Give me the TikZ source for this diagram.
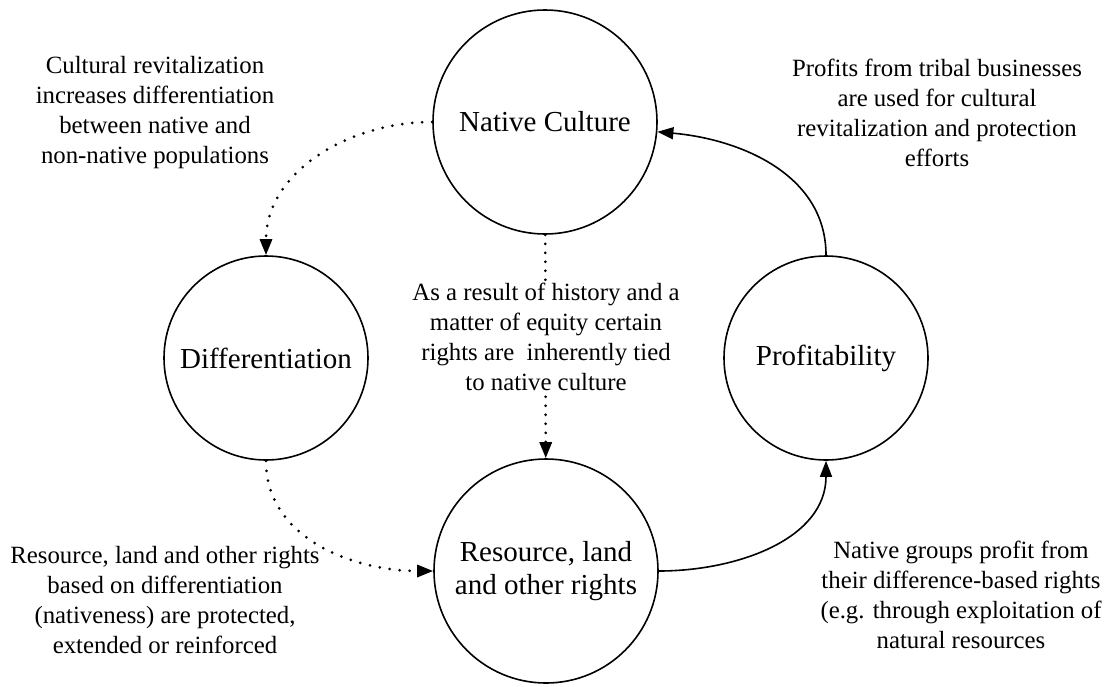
\documentclass[tikz,border=0pt]{standalone}
\usepackage{fontspec}
\setmainfont{Liberation Serif}
\usetikzlibrary{arrows.meta}
\tikzstyle{vertex}=[circle,draw,line width=0.8pt,inner sep=0pt,align=center,font=\fontsize{14.5}{16.5}\selectfont]
\tikzstyle{note}=[align=center,font=\fontsize{12.4}{15}\selectfont]
\tikzstyle{link}=[line width=0.8pt,-{Triangle[length=8pt,width=6pt]}]
\tikzstyle{dotlink}=[link,line width=1.5pt,line cap=round,dash pattern=on 0pt off 5pt]
\begin{document}
\begin{tikzpicture}[x=0.5pt,y=-0.5pt]
\useasboundingbox (0,0) rectangle (1107,686);

%circles
  \foreach \pos/\name/\label/\size in {{(545,122)/nc/{Native Culture}/112pt}, {(266,358)/diff/{Differentiation}/102pt},
      {(826,358)/prof/{Profitability}/102pt}, {(546,571)/rr/{Resource, land\\and other rights}/112pt}}
        \node[vertex, minimum size=\size] (\name) at \pos {\label};

%links
  \foreach \source/\dest/\o/\i in {nc/diff/180/90, diff/rr/-90/180}
          \draw[dotlink] (\source) to[out=\o,in=\i] (\dest);
  \foreach \source/\dest/\o/\i in {rr/prof/0/-90, prof/nc/90/-5}
          \draw[link] (\source) to[out=\o,in=\i] (\dest);
  \draw[dotlink,dash pattern=on 0pt off 4.5pt] (nc) -- (rr);

%notes
\node[note] (revital) at (155,113) {Cultural revitalization\\increases differentiation\\between native and\\non-native populations};
\node[note] (profits) at (937,113) {Profits from tribal businesses\\are used for cultural\\revitalization and protection\\efforts};
\node[note,fill=white,inner sep=1pt] (history) at (546,337) {As a result of history and a\\matter of equity certain\\rights are\ \ inherently tied\\to native culture};
\node[note] (based) at (165,600) {Resource, land and other rights\\based on differentiation\\(nativeness) are protected,\\extended or reinforced};
\node[note] (groups) at (961,595) {Native groups profit from\\their difference-based rights\\(e.g. through exploitation of\\natural resources};

\end{tikzpicture}
\end{document}
